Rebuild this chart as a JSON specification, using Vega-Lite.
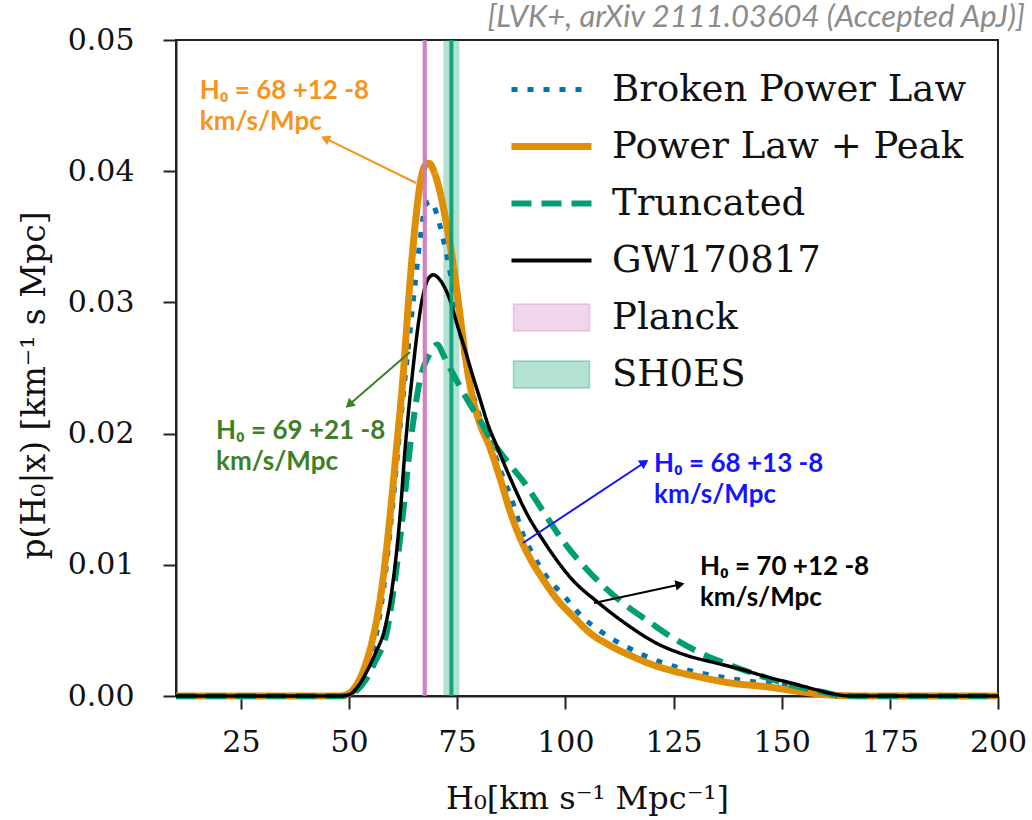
{
  "$schema": "https://vega.github.io/schema/vega-lite/v6.json",
  "width": 822,
  "height": 656,
  "autosize": {"type": "none"},
  "padding": {"left": 176, "top": 40, "right": 34, "bottom": 124},
  "background": "white",
  "config": {
    "view": {"stroke": "#222", "strokeWidth": 2},
    "axis": {
      "grid": false,
      "labelFont": "DejaVu Serif",
      "labelFontSize": 30,
      "labelColor": "#111",
      "titleFont": "DejaVu Serif",
      "titleFontSize": 32,
      "titleFontWeight": "normal",
      "titleColor": "#111",
      "tickSize": 13,
      "tickWidth": 2,
      "tickColor": "#222",
      "domainColor": "#222",
      "domainWidth": 2
    }
  },
  "title": {
    "text": "[LVK+, arXiv 2111.03604 (Accepted ApJ)]",
    "orient": "top",
    "anchor": "end",
    "frame": "group",
    "font": "Lato",
    "fontStyle": "italic",
    "fontWeight": "normal",
    "fontSize": 31,
    "color": "#8c8c8c",
    "baseline": "alphabetic",
    "offset": -33,
    "dx": 27
  },
  "datasets": {
    "curves": [
      {"name": "Broken Power Law", "h0": 10, "p": 0},
      {"name": "Broken Power Law", "h0": 48, "p": 0},
      {"name": "Broken Power Law", "h0": 50, "p": 0.0001},
      {"name": "Broken Power Law", "h0": 52, "p": 0.0007},
      {"name": "Broken Power Law", "h0": 54, "p": 0.002},
      {"name": "Broken Power Law", "h0": 56, "p": 0.0042},
      {"name": "Broken Power Law", "h0": 58, "p": 0.0082},
      {"name": "Broken Power Law", "h0": 60, "p": 0.0142},
      {"name": "Broken Power Law", "h0": 62, "p": 0.0212},
      {"name": "Broken Power Law", "h0": 64, "p": 0.0275},
      {"name": "Broken Power Law", "h0": 65.2, "p": 0.0312},
      {"name": "Broken Power Law", "h0": 66.5, "p": 0.035},
      {"name": "Broken Power Law", "h0": 67.8, "p": 0.0375},
      {"name": "Broken Power Law", "h0": 69, "p": 0.0377},
      {"name": "Broken Power Law", "h0": 70.3, "p": 0.0367},
      {"name": "Broken Power Law", "h0": 71.5, "p": 0.0352},
      {"name": "Broken Power Law", "h0": 73.3, "p": 0.0324},
      {"name": "Broken Power Law", "h0": 75, "p": 0.0292},
      {"name": "Broken Power Law", "h0": 77, "p": 0.0254},
      {"name": "Broken Power Law", "h0": 78.5, "p": 0.0232},
      {"name": "Broken Power Law", "h0": 80, "p": 0.0215},
      {"name": "Broken Power Law", "h0": 82.6, "p": 0.0194},
      {"name": "Broken Power Law", "h0": 85, "p": 0.0172},
      {"name": "Broken Power Law", "h0": 88, "p": 0.0146},
      {"name": "Broken Power Law", "h0": 90, "p": 0.0125},
      {"name": "Broken Power Law", "h0": 92, "p": 0.0111},
      {"name": "Broken Power Law", "h0": 95, "p": 0.0094},
      {"name": "Broken Power Law", "h0": 100, "p": 0.0075},
      {"name": "Broken Power Law", "h0": 104, "p": 0.006},
      {"name": "Broken Power Law", "h0": 108.7, "p": 0.0048},
      {"name": "Broken Power Law", "h0": 115, "p": 0.0036},
      {"name": "Broken Power Law", "h0": 121, "p": 0.0027},
      {"name": "Broken Power Law", "h0": 128, "p": 0.002},
      {"name": "Broken Power Law", "h0": 136, "p": 0.00145},
      {"name": "Broken Power Law", "h0": 143, "p": 0.0011},
      {"name": "Broken Power Law", "h0": 150, "p": 0.00084},
      {"name": "Broken Power Law", "h0": 155, "p": 0.0005},
      {"name": "Broken Power Law", "h0": 160, "p": 0.0002},
      {"name": "Broken Power Law", "h0": 165, "p": 0.00005},
      {"name": "Broken Power Law", "h0": 170, "p": 0},
      {"name": "Broken Power Law", "h0": 200, "p": 0},

      {"name": "Power Law + Peak", "h0": 10, "p": 0},
      {"name": "Power Law + Peak", "h0": 48, "p": 0},
      {"name": "Power Law + Peak", "h0": 50, "p": 0.0002},
      {"name": "Power Law + Peak", "h0": 52, "p": 0.001},
      {"name": "Power Law + Peak", "h0": 54, "p": 0.0026},
      {"name": "Power Law + Peak", "h0": 55.5, "p": 0.0044},
      {"name": "Power Law + Peak", "h0": 56.5, "p": 0.006},
      {"name": "Power Law + Peak", "h0": 57.8, "p": 0.0088},
      {"name": "Power Law + Peak", "h0": 59.5, "p": 0.0138},
      {"name": "Power Law + Peak", "h0": 61, "p": 0.019},
      {"name": "Power Law + Peak", "h0": 62.5, "p": 0.0244},
      {"name": "Power Law + Peak", "h0": 64, "p": 0.0312},
      {"name": "Power Law + Peak", "h0": 65.5, "p": 0.0366},
      {"name": "Power Law + Peak", "h0": 66.5, "p": 0.0392},
      {"name": "Power Law + Peak", "h0": 67.5, "p": 0.0404},
      {"name": "Power Law + Peak", "h0": 68.5, "p": 0.0406},
      {"name": "Power Law + Peak", "h0": 69.5, "p": 0.0401},
      {"name": "Power Law + Peak", "h0": 70.5, "p": 0.0391},
      {"name": "Power Law + Peak", "h0": 72, "p": 0.0369},
      {"name": "Power Law + Peak", "h0": 73, "p": 0.0351},
      {"name": "Power Law + Peak", "h0": 74, "p": 0.0331},
      {"name": "Power Law + Peak", "h0": 75.5, "p": 0.0294},
      {"name": "Power Law + Peak", "h0": 77, "p": 0.0256},
      {"name": "Power Law + Peak", "h0": 78.5, "p": 0.0228},
      {"name": "Power Law + Peak", "h0": 80, "p": 0.021},
      {"name": "Power Law + Peak", "h0": 82.6, "p": 0.0189},
      {"name": "Power Law + Peak", "h0": 85, "p": 0.0165},
      {"name": "Power Law + Peak", "h0": 87.2, "p": 0.0141},
      {"name": "Power Law + Peak", "h0": 90, "p": 0.0117},
      {"name": "Power Law + Peak", "h0": 92, "p": 0.0104},
      {"name": "Power Law + Peak", "h0": 95, "p": 0.0088},
      {"name": "Power Law + Peak", "h0": 98, "p": 0.0074},
      {"name": "Power Law + Peak", "h0": 102, "p": 0.006},
      {"name": "Power Law + Peak", "h0": 105.7, "p": 0.0048},
      {"name": "Power Law + Peak", "h0": 110, "p": 0.0039},
      {"name": "Power Law + Peak", "h0": 115.6, "p": 0.003},
      {"name": "Power Law + Peak", "h0": 120, "p": 0.0024},
      {"name": "Power Law + Peak", "h0": 125, "p": 0.0019},
      {"name": "Power Law + Peak", "h0": 131, "p": 0.00145},
      {"name": "Power Law + Peak", "h0": 138, "p": 0.001},
      {"name": "Power Law + Peak", "h0": 146.6, "p": 0.0007},
      {"name": "Power Law + Peak", "h0": 155, "p": 0.0003},
      {"name": "Power Law + Peak", "h0": 160, "p": 0.0001},
      {"name": "Power Law + Peak", "h0": 165, "p": 0.00002},
      {"name": "Power Law + Peak", "h0": 170, "p": 0},
      {"name": "Power Law + Peak", "h0": 200, "p": 0},

      {"name": "Truncated", "h0": 10, "p": 0},
      {"name": "Truncated", "h0": 48, "p": 0},
      {"name": "Truncated", "h0": 50, "p": 0.0001},
      {"name": "Truncated", "h0": 52, "p": 0.0005},
      {"name": "Truncated", "h0": 54, "p": 0.0013},
      {"name": "Truncated", "h0": 56, "p": 0.0026},
      {"name": "Truncated", "h0": 58.8, "p": 0.005},
      {"name": "Truncated", "h0": 60.6, "p": 0.0088},
      {"name": "Truncated", "h0": 62.5, "p": 0.014},
      {"name": "Truncated", "h0": 64.1, "p": 0.019},
      {"name": "Truncated", "h0": 66.4, "p": 0.0241},
      {"name": "Truncated", "h0": 68.5, "p": 0.026},
      {"name": "Truncated", "h0": 70.5, "p": 0.0268},
      {"name": "Truncated", "h0": 71.5, "p": 0.0262},
      {"name": "Truncated", "h0": 72.5, "p": 0.0255},
      {"name": "Truncated", "h0": 73.8, "p": 0.0247},
      {"name": "Truncated", "h0": 75.6, "p": 0.0236},
      {"name": "Truncated", "h0": 78, "p": 0.0222},
      {"name": "Truncated", "h0": 80.3, "p": 0.021},
      {"name": "Truncated", "h0": 82.5, "p": 0.0197},
      {"name": "Truncated", "h0": 84.9, "p": 0.0186},
      {"name": "Truncated", "h0": 87.5, "p": 0.0175},
      {"name": "Truncated", "h0": 90.2, "p": 0.0164},
      {"name": "Truncated", "h0": 95, "p": 0.014},
      {"name": "Truncated", "h0": 100.4, "p": 0.0114},
      {"name": "Truncated", "h0": 104, "p": 0.01},
      {"name": "Truncated", "h0": 108.7, "p": 0.0084},
      {"name": "Truncated", "h0": 114, "p": 0.0069},
      {"name": "Truncated", "h0": 119.6, "p": 0.0056},
      {"name": "Truncated", "h0": 125, "p": 0.0044},
      {"name": "Truncated", "h0": 131.1, "p": 0.0033},
      {"name": "Truncated", "h0": 136, "p": 0.0026},
      {"name": "Truncated", "h0": 141, "p": 0.002},
      {"name": "Truncated", "h0": 145.5, "p": 0.0015},
      {"name": "Truncated", "h0": 150.3, "p": 0.001},
      {"name": "Truncated", "h0": 154, "p": 0.0007},
      {"name": "Truncated", "h0": 158, "p": 0.0004},
      {"name": "Truncated", "h0": 161, "p": 0.0002},
      {"name": "Truncated", "h0": 163.5, "p": 0},
      {"name": "Truncated", "h0": 200, "p": 0},

      {"name": "GW170817", "h0": 10, "p": 0},
      {"name": "GW170817", "h0": 48, "p": 0},
      {"name": "GW170817", "h0": 50, "p": 0.0001},
      {"name": "GW170817", "h0": 52, "p": 0.0007},
      {"name": "GW170817", "h0": 54, "p": 0.0018},
      {"name": "GW170817", "h0": 56, "p": 0.0032},
      {"name": "GW170817", "h0": 58.3, "p": 0.0052},
      {"name": "GW170817", "h0": 60.2, "p": 0.0088},
      {"name": "GW170817", "h0": 61.8, "p": 0.0138},
      {"name": "GW170817", "h0": 62.9, "p": 0.0186},
      {"name": "GW170817", "h0": 64.5, "p": 0.0241},
      {"name": "GW170817", "h0": 66.9, "p": 0.0302},
      {"name": "GW170817", "h0": 68.3, "p": 0.0318},
      {"name": "GW170817", "h0": 69.5, "p": 0.0321},
      {"name": "GW170817", "h0": 70.8, "p": 0.0318},
      {"name": "GW170817", "h0": 72, "p": 0.0312},
      {"name": "GW170817", "h0": 73.3, "p": 0.0302},
      {"name": "GW170817", "h0": 75, "p": 0.0283},
      {"name": "GW170817", "h0": 76.8, "p": 0.0264},
      {"name": "GW170817", "h0": 78.5, "p": 0.0245},
      {"name": "GW170817", "h0": 80.3, "p": 0.0226},
      {"name": "GW170817", "h0": 82, "p": 0.0208},
      {"name": "GW170817", "h0": 84.2, "p": 0.019},
      {"name": "GW170817", "h0": 87, "p": 0.0168},
      {"name": "GW170817", "h0": 91.1, "p": 0.0139},
      {"name": "GW170817", "h0": 95, "p": 0.0118},
      {"name": "GW170817", "h0": 101.8, "p": 0.0088},
      {"name": "GW170817", "h0": 107.3, "p": 0.0072},
      {"name": "GW170817", "h0": 114, "p": 0.0055},
      {"name": "GW170817", "h0": 121.2, "p": 0.004},
      {"name": "GW170817", "h0": 128, "p": 0.0031},
      {"name": "GW170817", "h0": 135, "p": 0.0025},
      {"name": "GW170817", "h0": 141, "p": 0.002},
      {"name": "GW170817", "h0": 146.6, "p": 0.00145},
      {"name": "GW170817", "h0": 152, "p": 0.001},
      {"name": "GW170817", "h0": 158.2, "p": 0.00046},
      {"name": "GW170817", "h0": 162, "p": 0.00015},
      {"name": "GW170817", "h0": 165.8, "p": 0},
      {"name": "GW170817", "h0": 200, "p": 0}
    ],
    "bands": [
      {"name": "Planck", "lo": 67.0, "hi": 68.0, "mid": 67.5},
      {"name": "SH0ES", "lo": 71.8, "hi": 75.5, "mid": 73.65}
    ],
    "notes": [
      {"who": "plp", "label": "H₀ = 68 +12 -8\nkm/s/Mpc", "tx": 15.5, "ty": 0.0455, "ax": 65.5, "ay": 0.0391, "hx": 44.5, "hy": 0.0425},
      {"who": "trunc", "label": "H₀ = 69 +21 -8\nkm/s/Mpc", "tx": 19.25, "ty": 0.01959, "ax": 64.1, "ay": 0.02622, "hx": 50.0, "hy": 0.0222},
      {"who": "bpl", "label": "H₀ = 68 +13 -8\nkm/s/Mpc", "tx": 120.5, "ty": 0.01707, "ax": 90.2, "ay": 0.01166, "hx": 118.3, "hy": 0.0178},
      {"who": "gw", "label": "H₀ = 70 +12 -8\nkm/s/Mpc", "tx": 131.1, "ty": 0.00922, "ax": 106.6, "ay": 0.00709, "hx": 126.5, "hy": 0.0085}
    ]
  },
  "layer": [
    {
      "data": {"name": "bands"},
      "mark": {"type": "rect", "opacity": 0.3},
      "encoding": {
        "x": {"field": "lo", "type": "quantitative"},
        "x2": {"field": "hi"},
        "color": {"field": "name", "type": "nominal"}
      }
    },
    {
      "data": {"name": "curves"},
      "mark": {"type": "line", "interpolate": "monotone", "strokeCap": "butt", "strokeJoin": "round"},
      "encoding": {
        "x": {
          "field": "h0",
          "type": "quantitative",
          "scale": {"domain": [10, 200], "nice": false, "zero": false},
          "axis": {
            "title": "H₀[km s⁻¹ Mpc⁻¹]",
            "values": [25, 50, 75, 100, 125, 150, 175, 200],
            "labelPadding": 18,
            "titlePadding": 26,
            "labelFlush": false
          }
        },
        "y": {
          "field": "p",
          "type": "quantitative",
          "scale": {"domain": [0, 0.05], "nice": false},
          "axis": {
            "title": "p(H₀|x) [km⁻¹ s Mpc]",
            "titleFontSize": 33,
            "titleY": 345,
            "values": [0, 0.01, 0.02, 0.03, 0.04, 0.05],
            "format": ".2f",
            "labelPadding": 29,
            "titlePadding": 16,
            "labelFlush": false
          }
        },
        "color": {
          "field": "name",
          "type": "nominal",
          "scale": {
            "domain": ["Broken Power Law", "Power Law + Peak", "Truncated", "GW170817", "Planck", "SH0ES"],
            "range": ["#0173b2", "#de8f05", "#029e73", "#000000", "#cc78bc", "#029e73"]
          },
          "legend": {
            "title": null,
            "orient": "top-right",
            "offset": 31,
            "labelFont": "DejaVu Serif",
            "labelFontSize": 37,
            "labelColor": "#111",
            "labelLimit": 700,
            "labelOffset": 42,
            "symbolType": "M-2,0H2",
            "symbolSize": 1600,
            "symbolStrokeWidth": 5,
            "rowPadding": 19,
            "encode": {
              "symbols": {
                "update": {
                  "shape": {"signal": "indexof(['Planck','SH0ES'], datum.value) >= 0 ? 'M-1.9,-0.68H1.9V0.68H-1.9Z' : 'M-2,0H2'"},
                  "fill": {"signal": "indexof(['Planck','SH0ES'], datum.value) >= 0 ? scale('color', datum.value) : 'transparent'"},
                  "fillOpacity": {"value": 0.3},
                  "stroke": {"signal": "scale('color', datum.value)"},
                  "strokeOpacity": {"signal": "indexof(['Planck','SH0ES'], datum.value) >= 0 ? 0.35 : 1"},
                  "strokeWidth": {"signal": "datum.value === 'Power Law + Peak' ? 7 : datum.value === 'GW170817' ? 4 : datum.value === 'Truncated' ? 6 : datum.value === 'Broken Power Law' ? 5 : 1.5"},
                  "strokeDash": {"signal": "datum.value === 'Broken Power Law' ? [6, 10] : datum.value === 'Truncated' ? [20, 10] : [1, 0]"},
                  "strokeCap": {"value": "butt"},
                  "opacity": {"value": 1}
                }
              }
            }
          }
        },
        "strokeWidth": {
          "condition": [
            {"test": "datum.name === 'Power Law + Peak'", "value": 7},
            {"test": "datum.name === 'Truncated'", "value": 6},
            {"test": "datum.name === 'Broken Power Law'", "value": 5}
          ],
          "value": 3.5
        },
        "strokeDash": {
          "condition": [
            {"test": "datum.name === 'Broken Power Law'", "value": [6, 10]},
            {"test": "datum.name === 'Truncated'", "value": [20, 10]}
          ],
          "value": [1, 0]
        }
      }
    },
    {
      "data": {"name": "bands"},
      "mark": {"type": "rule", "strokeWidth": 4, "opacity": 0.9},
      "encoding": {
        "x": {"field": "mid", "type": "quantitative"},
        "color": {"field": "name", "type": "nominal"}
      }
    },
    {
      "data": {"name": "notes"},
      "mark": {"type": "rule", "strokeWidth": 2},
      "encoding": {
        "x": {"field": "ax", "type": "quantitative"},
        "y": {"field": "ay", "type": "quantitative"},
        "x2": {"field": "hx"},
        "y2": {"field": "hy"},
        "stroke": {
          "field": "who",
          "type": "nominal",
          "scale": {"domain": ["plp", "trunc", "bpl", "gw"], "range": ["#f7941d", "#3d7f26", "#1414ff", "#000000"]},
          "legend": null
        }
      }
    },
    {
      "data": {"name": "notes"},
      "transform": [
        {"calculate": "atan2((datum.hx - datum.ax) * 4.326, (datum.hy - datum.ay) * 13120) * 180 / PI", "as": "heading"}
      ],
      "mark": {"type": "point", "shape": "triangle-up", "filled": true, "size": 110, "opacity": 1},
      "encoding": {
        "x": {"field": "hx", "type": "quantitative"},
        "y": {"field": "hy", "type": "quantitative"},
        "angle": {"field": "heading", "type": "quantitative", "scale": null},
        "fill": {
          "field": "who",
          "type": "nominal",
          "scale": {"domain": ["plp", "trunc", "bpl", "gw"], "range": ["#f7941d", "#3d7f26", "#1414ff", "#000000"]},
          "legend": null
        }
      }
    },
    {
      "data": {"name": "notes"},
      "mark": {
        "type": "text",
        "align": "left",
        "baseline": "alphabetic",
        "lineBreak": "\n",
        "lineHeight": 31,
        "font": "Lato",
        "fontWeight": "bold",
        "fontSize": 26
      },
      "encoding": {
        "x": {"field": "tx", "type": "quantitative"},
        "y": {"field": "ty", "type": "quantitative"},
        "text": {"field": "label"},
        "fill": {
          "field": "who",
          "type": "nominal",
          "scale": {"domain": ["plp", "trunc", "bpl", "gw"], "range": ["#f7941d", "#3d7f26", "#1414ff", "#000000"]},
          "legend": null
        }
      }
    }
  ]
}
